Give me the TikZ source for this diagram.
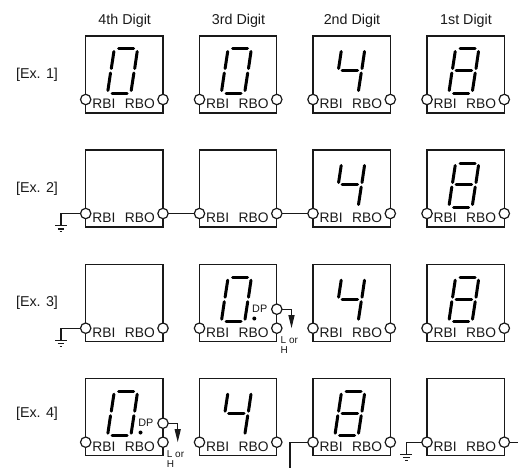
\documentclass[tikz,border=0pt]{standalone}
\usepackage{fontspec}
\setmainfont{Liberation Sans}
\usetikzlibrary{arrows.meta}
\tikzset{
  boxst/.style={draw=black!90,line width=1.2pt,minimum width=77.3pt,minimum height=77pt,inner sep=0pt,outer sep=0pt,anchor=north west},
  pinst/.style={circle,draw=black!90,fill=white,line width=1.2pt,minimum size=10.4pt,inner sep=0pt,outer sep=0pt},
  wire/.style={draw=black!90,line width=1.2pt},
  segst/.style={line width=3pt,line cap=round,black},
  sig/.style={font=\fontsize{13.8pt}{15pt}\selectfont,inner sep=0pt,anchor=base west,text=black!90},
  head/.style={font=\fontsize{14.3pt}{16pt}\selectfont,inner sep=0pt,anchor=base,text=black!90},
  small/.style={font=\fontsize{10pt}{9.6pt}\selectfont,inner sep=0pt,text=black!90},
  gnd/.style={draw=black!90,line width=1.2pt}
}
\newcommand\dbox[3]{%
  \node[boxst] (#1) at (#2,#3) {};
  \node[pinst] (#1i) at (#2,#3+63.5) {};
  \node[pinst] (#1o) at (#2+77.3,#3+63.5) {};
  \node[sig] (#1r) at (#2+6.5,#3+72.7) {RBI};
  \node[sig] (#1s) at (#2+39,#3+72.7) {RBO};
}
\newcommand\sA{\draw[segst] (33,13)--(48,13);}
\newcommand\sB{\draw[segst] (51.5,15.5)--(49,32.5);}
\newcommand\sC{\draw[segst] (48.2,37)--(45.5,54.5);}
\newcommand\sD{\draw[segst] (26.5,57)--(41.5,57);}
\newcommand\sE{\draw[segst] (24.8,37)--(22.2,54.5);}
\newcommand\sF{\draw[segst] (28.2,15.5)--(25.6,32.5);}
\newcommand\sG{\draw[segst] (29,34.7)--(44.5,34.7);}
\newcommand\dzero[2]{\begin{scope}[shift={(#1,#2)}]\sA\sB\sC\sD\sE\sF\end{scope}}
\newcommand\dfour[2]{\begin{scope}[shift={(#1,#2)}]\sB\sC\sF\sG\end{scope}}
\newcommand\deight[2]{\begin{scope}[shift={(#1,#2)}]\sA\sB\sC\sD\sE\sF\sG\end{scope}}
% DP pin, label, dot, arrow and L or H
\newcommand\dpunit[1]{%
  \path (#1.north west) ++(54.8,53.8) coordinate (#1dot);
  \fill[black] (#1dot) circle (2pt);
  \path (#1.north west) ++(52.5,44.5) node[small,anchor=west] (#1dp) {\fontsize{10.8pt}{11pt}\selectfont DP};
  \path (#1.north west) ++(77.3,44.5) node[pinst] (#1p) {};
  \path (#1.north west) ++(92,63.5) coordinate (#1tip);
  \draw[wire,-{Triangle[width=6pt,length=13pt]}] (#1p.east) -| (#1tip);
  \path (#1.north west) ++(81,78.6) node[small,anchor=base west] (#1l) {L or};
  \path (#1.north west) ++(81,88.4) node[small,anchor=base west] (#1h) {H};
}
% ground: wire from a pin to a symbol
\newcommand\gndfrom[3]{%
  \coordinate (#1g) at (#2,#3);
  \draw[wire] (#1) -| (#1g);
  \draw[gnd] ([xshift=-6pt]#1g) -- ([xshift=6pt]#1g);
  \draw[gnd] ([xshift=-3.4pt,yshift=-3.2pt]#1g) -- ([xshift=3.4pt,yshift=-3.2pt]#1g);
  \draw[gnd] ([xshift=-1.4pt,yshift=-6pt]#1g) -- ([xshift=1.4pt,yshift=-6pt]#1g);
}
\begin{document}
\begin{tikzpicture}[x=1pt,y=-1pt]
\useasboundingbox (0,0) rectangle (518,468);
\node[head] (h4) at (124.7,25) {4th Digit};
\node[head] (h3) at (238.5,25) {3rd Digit};
\node[head] (h2) at (352,25) {2nd Digit};
\node[head] (h1) at (466,25) {1st Digit};
\node[head] (e1) at (37,78.5) {[Ex. 1]};
\node[head] (e2) at (37,192.5) {[Ex. 2]};
\node[head] (e3) at (37,306) {[Ex. 3]};
\node[head] (e4) at (37,417) {[Ex. 4]};
\foreach \r/\y in {a/36,b/150,c/264.7,d/378.7}{
  \dbox{\r1}{85.7}{\y}
  \dbox{\r2}{199.5}{\y}
  \dbox{\r3}{313}{\y}
  \dbox{\r4}{427}{\y}
}
% Ex 1
\dzero{85.7}{36}\dzero{199.5}{36}\dfour{313}{36}\deight{427}{36}
% Ex 2
\dfour{313}{150}\deight{427}{150}
\gndfrom{b1i}{61}{225.7}
\draw[wire] (b1o) -- (b2i);
\draw[wire] (b2o) -- (b3i);
% Ex 3
\dzero{199.5}{264.7}\dfour{313}{264.7}\deight{427}{264.7}
\gndfrom{c1i}{61}{340.4}
\dpunit{c2}
% Ex 4
\dzero{85.7}{378.7}\dfour{199.5}{378.7}\deight{313}{378.7}
\dpunit{d1}
\gndfrom{d4i}{406.3}{454.4}
\coordinate (dw) at (290,468);
\draw[wire] (d3i) -| (dw);
\coordinate (dr) at (518,442.2);
\draw[wire] (d4o) -- (dr);
\end{tikzpicture}
\end{document}
